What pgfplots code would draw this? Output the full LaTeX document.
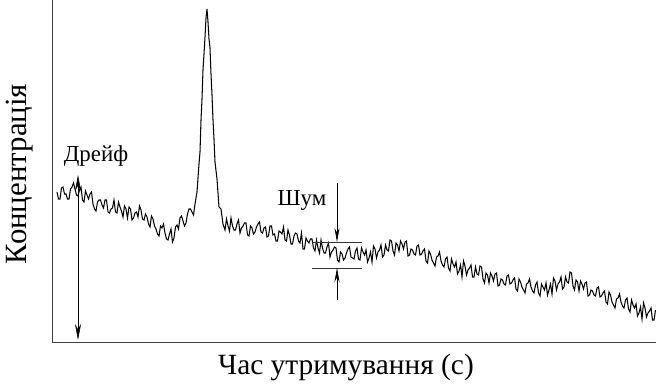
\documentclass[border=0pt]{standalone}
\usepackage{fontspec}
\setmainfont{Liberation Serif}
\usepackage{pgfplots}
\pgfplotsset{compat=1.18}
\usetikzlibrary{arrows.meta}
\begin{document}
\begin{tikzpicture}
\begin{axis}[name=ax, scale only axis, width=604bp, height=342bp,
  xmin=0, xmax=604, ymin=0, ymax=342,
  axis lines=left, axis line style={-, black!75, line width=0.8pt},
  xtick=\empty, ytick=\empty, clip=false]
\addplot[black, line width=1.05pt, mark=none] coordinates {
(5,150)(6.5,143)(8,143)(9.5,154)(11,155)(12.5,148)(14,148)(15.5,143)(17,143)(18.5,153)(20,155)(21.5,159)(23,153)(24.5,147)(26,146)(27.5,152)(29,155)(30.5,142)(32,140)(33.5,151)(35,147)(36.5,143)(38,148)(39.5,150)(41,138)(42.5,133)(44,131)(45.5,140)(47,142)(48.5,142)(50,137)(51.5,134)(53,142)(54.5,142)(56,130)(57.5,129)(59,133)(60.5,134)(62,142)(63.5,130)(65,129)(66.5,140)(68,135)(69.5,131)(71,125)(72.5,136)(74,133)(75.5,124)(77,135)(78.5,133)(80,122)(81.5,124)(83,129)(84.5,130)(86,125)(87.5,136)(89,132)(90.5,123)(92,122)(93.5,128)(95,125)(96.5,118)(98,115)(99.5,126)(101,123)(102.5,116)(104,113)(105.5,108)(107,106)(108.5,116)(110,114)(111.5,118)(113,109)(114.5,103)(116,102)(117.5,108)(119,113)(120.5,100)(122,104)(123.5,115)(125,117)(126.5,113)(128,124)(129.5,126)(131,121)(132.5,116)(134,119)(135.5,128)(137,133)(138.5,133)(140,130)(141.5,127)(143,138)
(145,150)(147,178)(148,190)(149,222)(150,243)(151,272)(152,288)(153,305)(154,324)(155,333)
(156,320)(157,303)(158,294)(159,268)(160,247)(161,222)(162,203)(163,180)(165,163)(167,135)
(169,133)(171,118)
(173,112)(174.5,123)(176,116)(177.5,111)(179,124)(180.5,116)(182,112)(183.5,112)(185,118)(186.5,122)(188,109)(189.5,114)(191,116)(192.5,119)(194,119)(195.5,107)(197,106)(198.5,116)(200,114)(201.5,108)(203,110)(204.5,115)(206,118)(207.5,120)(209,110)(210.5,109)(212,114)(213.5,115)(215,105)(216.5,106)(218,116)(219.5,116)(221,107)(222.5,108)(224,101)(225.5,101)(227,111)(228.5,110)(230,108)(231.5,115)(233,102)(234.5,101)(236,112)(237.5,107)(239,98)(240.5,98)(242,106)(243.5,109)(245,108)(246.5,101)(248,99)(249.5,109)(251,93)(252.5,93)(254,104)(255.5,101)(257,99)(258.5,103)(260,103)(261.5,94)(263,91)(264.5,102)(266,94)(267.5,89)(269,102)(270.5,94)(272,89)(273.5,89)(275,95)(276.5,99)(278,85)(279.5,90)(281,92)(282.5,95)(284,94)(285.5,82)(287,80)(288.5,90)(290,88)(291.5,82)(293,84)(294.5,89)(296,93)(297.5,95)(299,85)(300.5,84)(302,83)(303.5,91)(305,94)(306.5,83)(308,82)(309.5,94)(311,90)(312.5,87)(314,92)(315.5,80)(317,84)(318.5,90)(320,80)(321.5,96)(323,93)(324.5,84)(326,90)(327.5,92)(329,97)(330.5,85)(332,87)(333.5,97)(335,92)(336.5,91)(338,102)(339.5,101)(341,91)(342.5,87)(344,99)(345.5,97)(347,91)(348.5,101)(350,98)(351.5,93)(353,100)(354.5,101)(356,86)(357.5,87)(359,93)(360.5,92)(362,88)(363.5,87)(365,96)(366.5,97)(368,87)(369.5,88)(371,91)(372.5,93)(374,81)(375.5,79)(377,91)(378.5,88)(380,82)(381.5,79)(383,76)(384.5,85)(386,86)(387.5,90)(389,81)(390.5,77)(392,75)(393.5,83)(395,85)(396.5,74)(398,71)(399.5,83)(401,78)(402.5,75)(404,80)(405.5,68)(407,71)(408.5,77)(410,65)(411.5,81)(413,76)(414.5,67)(416,72)(417.5,74)(419,77)(420.5,65)(422,65)(423.5,75)(425,68)(426.5,67)(428,76)(429.5,75)(431,63)(432.5,59)(434,69)(435.5,67)(437,59)(438.5,69)(440,66)(441.5,61)(443,68)(444.5,69)(446,56)(447.5,57)(449,63)(450.5,62)(452,58)(453.5,57)(455,66)(456.5,67)(458,58)(459.5,59)(461,62)(462.5,64)(464,53)(465.5,51)(467,63)(468.5,60)(470,55)(471.5,52)(473,49)(474.5,58)(476,59)(477.5,63)(479,55)(480.5,51)(482,49)(483.5,57)(485,60)(486.5,49)(488,46)(489.5,58)(491,55)(492.5,52)(494,59)(495.5,47)(497,52)(498.5,58)(500,48)(501.5,64)(503,61)(504.5,52)(506,58)(507.5,60)(509,65)(510.5,53)(512,55)(513.5,65)(515,60)(516.5,59)(518,70)(519.5,69)(521,56)(522.5,52)(524,62)(525.5,60)(527,51)(528.5,61)(530,58)(531.5,53)(533,59)(534.5,60)(536,46)(537.5,47)(539,52)(540.5,51)(542,47)(543.5,46)(545,54)(546.5,55)(548,45)(549.5,46)(551,49)(552.5,51)(554,40)(555.5,38)(557,50)(558.5,47)(560,40)(561.5,37)(563,34)(564.5,43)(566,44)(567.5,48)(569,40)(570.5,36)(572,34)(573.5,42)(575,44)(576.5,33)(578,30)(579.5,42)(581,37)(582.5,34)(584,38)(585.5,26)(587,29)(588.5,35)(590,23)(591.5,39)(593,34)(594.5,25)(596,29)(597.5,31)(599,34)(600.5,22)(602,22)(603.5,32)
};
% drift
\draw[{Stealth[length=16bp,width=6bp]}-{Stealth[length=16bp,width=6bp]}, line width=0.6pt]
  (axis cs:26,167) -- (axis cs:26,2);
\node[font=\fontsize{23}{27}\selectfont] at (axis cs:44,186) {Дрейф};
% noise
\node[font=\fontsize{23}{27}\selectfont] at (axis cs:250,142) {Шум};
\draw[line width=0.5pt, black!80] (axis cs:260,100) -- (axis cs:310,100);
\draw[line width=0.5pt, black!80] (axis cs:260,74) -- (axis cs:310,74);
\draw[-{Stealth[length=14bp,width=5bp]}, line width=0.6pt] (axis cs:285,159) -- (axis cs:285,100);
\draw[-{Stealth[length=14bp,width=5bp]}, line width=0.6pt] (axis cs:285,42) -- (axis cs:285,74);
\end{axis}
\node[rotate=90, font=\fontsize{31}{35}\selectfont] at ([xshift=-32bp,yshift=-3bp]ax.west) {Концентрація};
\node[font=\fontsize{29.5}{34}\selectfont] at ([xshift=-8bp,yshift=-25bp]ax.south) {Час утримування (с)};
\pgfresetboundingbox
\path[use as bounding box] ([xshift=-52bp,yshift=-43bp]ax.south west) rectangle (ax.north east);
\end{tikzpicture}
\end{document}
